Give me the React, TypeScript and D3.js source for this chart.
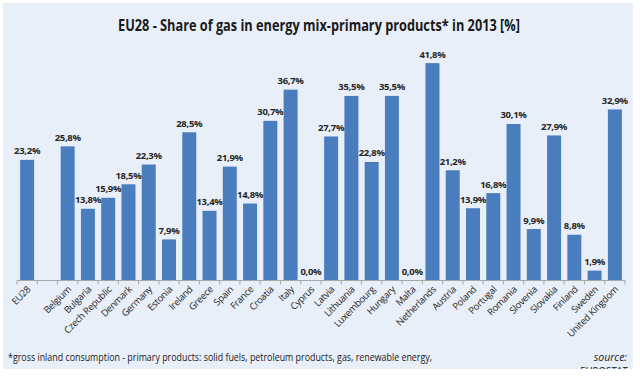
import React from "react";
import * as d3 from "d3";

const categories = ["EU28", "", "Belgium", "Bulgaria", "Czech Republic", "Denmark", "Germany", "Estonia", "Ireland", "Greece", "Spain", "France", "Croatia", "Italy", "Cyprus", "Latvia", "Lithuania", "Luxembourg", "Hungary", "Malta", "Netherlands", "Austria", "Poland", "Portugal", "Romania", "Slovenia", "Slovakia", "Finland", "Sweden", "United Kingdom"];
const values: (number | null)[] = [23.2, null, 25.8, 13.8, 15.9, 18.5, 22.3, 7.9, 28.5, 13.4, 21.9, 14.8, 30.7, 36.7, 0.0, 27.7, 35.5, 22.8, 35.5, 0.0, 41.8, 21.2, 13.9, 16.8, 30.1, 9.9, 27.9, 8.8, 1.9, 32.9];
const titleText = "EU28 - Share of gas in energy mix-primary products* in 2013 [%]";
const footnoteText = "*gross inland consumption - primary products:  solid fuels, petroleum products, gas, renewable energy,";
const sourceLines = ["source:", "EUROSTAT"];

const W = 640, H = 379;
const FONT = "'Open Sans', 'Noto Sans', sans-serif";

export default function App() {
  const idx = categories.map((_, i) => String(i));
  const x = d3.scaleBand<string>().domain(idx).range([17, 625]).paddingInner(0.31).paddingOuter(0.155);
  const y = d3.scaleLinear().domain([0, 45]).range([280.5, 46.5]);
  const fmt = (v: number) => v.toFixed(1).replace(".", ",") + "%";
  const ticks = d3.range(categories.length + 1).map(i => 17 + i * x.step());
  return (
    <svg width={W} height={H} style={{ position: "absolute", left: 0, top: 0, display: "block" }}>
      <defs>
        <clipPath id="panel"><rect x={3} y={3} width={630} height={366} /></clipPath>
      </defs>
      <rect x={0} y={0} width={W} height={H} fill="#ffffff" />
      <rect x={3} y={3} width={630} height={366} fill="#e9eff8" />
      <text x={319} y={31} textAnchor="middle" fontFamily={FONT} fontWeight={700} fontSize={16.5} fill="#1a1a1a" textLength={402} lengthAdjust="spacingAndGlyphs">{titleText}</text>
      {values.map((v, i) => v === null ? null : (
        <rect key={"b" + i} x={x(String(i))!} y={y(v)} width={x.bandwidth()} height={y(0) - y(v)} fill="#4a7dbd" />
      ))}
      {values.map((v, i) => v === null ? null : (
        <text key={"l" + i} x={x(String(i))! + x.bandwidth() / 2} y={y(v) - 5.5} textAnchor="middle" fontFamily={FONT} fontWeight={700} fontSize={9.5} fill="#262626" letterSpacing={-0.3}>{fmt(v)}</text>
      ))}
      <line x1={17} x2={625} y1={280.5} y2={280.5} stroke="#a6a6a6" strokeWidth={1} />
      {ticks.map((t, i) => (
        <line key={"t" + i} x1={t} x2={t} y1={280.5} y2={284.5} stroke="#a6a6a6" strokeWidth={1} />
      ))}
      {categories.map((c, i) => c === "" ? null : (
        <text key={"c" + i} transform={`translate(${x(String(i))! + x.bandwidth() / 2 + 4},${290}) rotate(-45)`} textAnchor="end" fontFamily={FONT} fontSize={9.5} fill="#262626" letterSpacing={-0.3}>{c}</text>
      ))}
      <text x={8} y={361} fontFamily={FONT} fontSize={11} fill="#1a1a1a" textLength={424} lengthAdjust="spacingAndGlyphs">{footnoteText}</text>
      <g clipPath="url(#panel)">
        <text x={627} y={361} textAnchor="end" fontFamily={FONT} fontStyle="italic" fontSize={10.5} fill="#1a1a1a">{sourceLines[0]}</text>
        <text x={627} y={375} textAnchor="end" fontFamily={FONT} fontStyle="italic" fontSize={10.5} fill="#1a1a1a">{sourceLines[1]}</text>
      </g>
    </svg>
  );
}
